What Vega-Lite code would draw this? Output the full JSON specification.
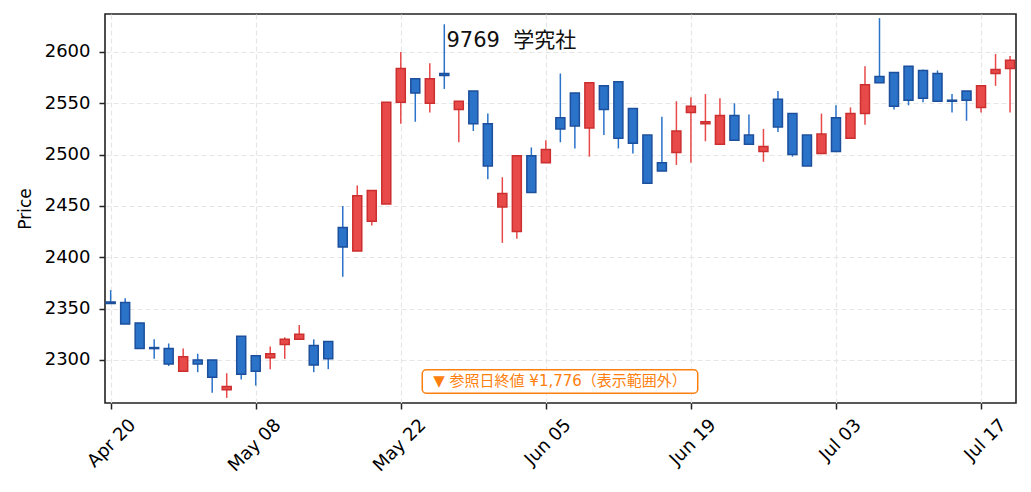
{
  "$schema": "https://vega.github.io/schema/vega-lite/v6.json",
  "width": 911,
  "height": 389,
  "autosize": {"type": "none"},
  "padding": {"left": 105, "top": 14, "right": 15, "bottom": 89},
  "background": "#ffffff",
  "view": {"stroke": "#222222", "strokeWidth": 1.6},
  "config": {
    "font": "DejaVu Sans",
    "axis": {
      "domain": false,
      "grid": true,
      "gridColor": "#e6e6e6",
      "gridDash": [5, 3],
      "gridWidth": 1.2,
      "tickColor": "#222222",
      "tickWidth": 1.5,
      "tickSize": 6,
      "labelColor": "#000000",
      "titleColor": "#000000",
      "titleFontWeight": "normal"
    }
  },
  "data": {
    "values": [
      {"date": "2026-04-20", "i": 0, "open": 2356.5, "high": 2368, "low": 2355, "close": 2355},
      {"date": "2026-04-21", "i": 1, "open": 2356, "high": 2360, "low": 2335, "close": 2335},
      {"date": "2026-04-22", "i": 2, "open": 2336, "high": 2336, "low": 2311, "close": 2311},
      {"date": "2026-04-23", "i": 3, "open": 2312, "high": 2320, "low": 2301, "close": 2311},
      {"date": "2026-04-24", "i": 4, "open": 2311, "high": 2316, "low": 2294, "close": 2296},
      {"date": "2026-04-27", "i": 5, "open": 2289, "high": 2311, "low": 2289, "close": 2303},
      {"date": "2026-04-28", "i": 6, "open": 2300, "high": 2306, "low": 2288, "close": 2296},
      {"date": "2026-04-30", "i": 7, "open": 2300, "high": 2300, "low": 2268, "close": 2283},
      {"date": "2026-05-01", "i": 8, "open": 2271, "high": 2287, "low": 2263, "close": 2274},
      {"date": "2026-05-07", "i": 9, "open": 2323, "high": 2323, "low": 2281, "close": 2286},
      {"date": "2026-05-08", "i": 10, "open": 2304, "high": 2304, "low": 2275, "close": 2289},
      {"date": "2026-05-11", "i": 11, "open": 2302, "high": 2313, "low": 2291, "close": 2306},
      {"date": "2026-05-12", "i": 12, "open": 2315, "high": 2322, "low": 2301, "close": 2320},
      {"date": "2026-05-13", "i": 13, "open": 2320, "high": 2334, "low": 2320, "close": 2325},
      {"date": "2026-05-14", "i": 14, "open": 2314, "high": 2320, "low": 2288, "close": 2295},
      {"date": "2026-05-15", "i": 15, "open": 2318, "high": 2318, "low": 2291, "close": 2301},
      {"date": "2026-05-18", "i": 16, "open": 2429, "high": 2450, "low": 2381, "close": 2410},
      {"date": "2026-05-19", "i": 17, "open": 2406, "high": 2470, "low": 2406, "close": 2460},
      {"date": "2026-05-20", "i": 18, "open": 2435, "high": 2465, "low": 2431, "close": 2465},
      {"date": "2026-05-21", "i": 19, "open": 2452, "high": 2551, "low": 2452, "close": 2551},
      {"date": "2026-05-22", "i": 20, "open": 2551, "high": 2600, "low": 2530, "close": 2584},
      {"date": "2026-05-25", "i": 21, "open": 2574, "high": 2574, "low": 2532, "close": 2560},
      {"date": "2026-05-26", "i": 22, "open": 2550, "high": 2589, "low": 2541, "close": 2574},
      {"date": "2026-05-27", "i": 23, "open": 2579, "high": 2627, "low": 2564, "close": 2577},
      {"date": "2026-05-28", "i": 24, "open": 2544, "high": 2552, "low": 2512, "close": 2552},
      {"date": "2026-05-29", "i": 25, "open": 2562, "high": 2562, "low": 2523, "close": 2530},
      {"date": "2026-06-01", "i": 26, "open": 2530, "high": 2540, "low": 2476, "close": 2489},
      {"date": "2026-06-02", "i": 27, "open": 2449, "high": 2478, "low": 2414, "close": 2462},
      {"date": "2026-06-03", "i": 28, "open": 2425, "high": 2499, "low": 2418, "close": 2499},
      {"date": "2026-06-04", "i": 29, "open": 2499, "high": 2507, "low": 2463, "close": 2463},
      {"date": "2026-06-05", "i": 30, "open": 2492, "high": 2514, "low": 2492, "close": 2505},
      {"date": "2026-06-08", "i": 31, "open": 2536, "high": 2579, "low": 2512, "close": 2525},
      {"date": "2026-06-09", "i": 32, "open": 2560, "high": 2560, "low": 2506, "close": 2528},
      {"date": "2026-06-10", "i": 33, "open": 2526, "high": 2570, "low": 2498, "close": 2570},
      {"date": "2026-06-11", "i": 34, "open": 2567, "high": 2567, "low": 2519, "close": 2544},
      {"date": "2026-06-12", "i": 35, "open": 2571, "high": 2571, "low": 2506, "close": 2516},
      {"date": "2026-06-15", "i": 36, "open": 2545, "high": 2545, "low": 2501, "close": 2511},
      {"date": "2026-06-16", "i": 37, "open": 2519, "high": 2519, "low": 2472, "close": 2472},
      {"date": "2026-06-17", "i": 38, "open": 2492, "high": 2537, "low": 2484, "close": 2484},
      {"date": "2026-06-18", "i": 39, "open": 2502, "high": 2552, "low": 2490, "close": 2523},
      {"date": "2026-06-19", "i": 40, "open": 2541, "high": 2556, "low": 2492, "close": 2547},
      {"date": "2026-06-22", "i": 41, "open": 2530, "high": 2559, "low": 2513, "close": 2532},
      {"date": "2026-06-23", "i": 42, "open": 2510, "high": 2555, "low": 2510, "close": 2538},
      {"date": "2026-06-24", "i": 43, "open": 2538, "high": 2550, "low": 2514, "close": 2514},
      {"date": "2026-06-25", "i": 44, "open": 2519, "high": 2539, "low": 2510, "close": 2510},
      {"date": "2026-06-26", "i": 45, "open": 2503, "high": 2525, "low": 2493, "close": 2508},
      {"date": "2026-06-29", "i": 46, "open": 2554, "high": 2562, "low": 2522, "close": 2527},
      {"date": "2026-06-30", "i": 47, "open": 2540, "high": 2540, "low": 2498, "close": 2500},
      {"date": "2026-07-01", "i": 48, "open": 2519, "high": 2519, "low": 2489, "close": 2489},
      {"date": "2026-07-02", "i": 49, "open": 2501, "high": 2540, "low": 2501, "close": 2520},
      {"date": "2026-07-03", "i": 50, "open": 2536, "high": 2548, "low": 2503, "close": 2503},
      {"date": "2026-07-06", "i": 51, "open": 2516, "high": 2546, "low": 2516, "close": 2540},
      {"date": "2026-07-07", "i": 52, "open": 2540, "high": 2586, "low": 2529, "close": 2568},
      {"date": "2026-07-08", "i": 53, "open": 2576, "high": 2633, "low": 2570, "close": 2570},
      {"date": "2026-07-09", "i": 54, "open": 2580, "high": 2580, "low": 2544, "close": 2547},
      {"date": "2026-07-10", "i": 55, "open": 2586, "high": 2586, "low": 2548, "close": 2553},
      {"date": "2026-07-13", "i": 56, "open": 2582, "high": 2583, "low": 2551, "close": 2555},
      {"date": "2026-07-14", "i": 57, "open": 2579, "high": 2582, "low": 2552, "close": 2552},
      {"date": "2026-07-15", "i": 58, "open": 2553, "high": 2559, "low": 2541, "close": 2552},
      {"date": "2026-07-16", "i": 59, "open": 2562, "high": 2562, "low": 2533, "close": 2553},
      {"date": "2026-07-17", "i": 60, "open": 2546, "high": 2567, "low": 2541, "close": 2567},
      {"date": "2026-07-21", "i": 61, "open": 2579, "high": 2598, "low": 2567, "close": 2583},
      {"date": "2026-07-22", "i": 62, "open": 2584, "high": 2596, "low": 2541, "close": 2592}
    ]
  },
  "encoding": {
    "x": {
      "field": "i",
      "type": "quantitative",
      "scale": {"domain": [-0.39, 62.41], "nice": false, "zero": false, "padding": 0},
      "axis": {
        "title": null,
        "values": [0, 10, 20, 30, 40, 50, 60],
        "labelExpr": "['Apr 20', 'May 08', 'May 22', 'Jun 05', 'Jun 19', 'Jul 03', 'Jul 17'][datum.value / 10]",
        "labelAngle": -45,
        "labelAlign": "right",
        "labelBaseline": "middle",
        "labelOffset": 22,
        "labelPadding": 13,
        "labelFontSize": 18
      }
    }
  },
  "layer": [
    {
      "mark": {"type": "rule", "strokeWidth": 1.5},
      "encoding": {
        "y": {
          "field": "low",
          "type": "quantitative",
          "scale": {"domain": [2258, 2637], "nice": false, "zero": false},
          "axis": {
            "title": "Price",
            "values": [2300, 2350, 2400, 2450, 2500, 2550, 2600],
            "format": "d",
            "labelFontSize": 18,
            "labelPadding": 9,
            "titleFontSize": 17,
            "titlePadding": 10
          }
        },
        "y2": {"field": "high"},
        "stroke": {
          "condition": {"test": "datum.close >= datum.open", "value": "#e84a4a"},
          "value": "#2b72c9"
        }
      }
    },
    {
      "mark": {"type": "bar", "width": 9, "strokeWidth": 1.5},
      "encoding": {
        "y": {
          "field": "open",
          "type": "quantitative",
          "axis": {"title": "Price", "format": "d"}
        },
        "y2": {"field": "close"},
        "fill": {
          "condition": {"test": "datum.close >= datum.open", "value": "#e84a4a"},
          "value": "#2b72c9"
        },
        "stroke": {
          "condition": {"test": "datum.close >= datum.open", "value": "#cc2f2f"},
          "value": "#1c4f9c"
        }
      }
    },
    {
      "transform": [{"filter": "datum.i == 0"}],
      "mark": {"type": "rect", "fill": "#ffffff", "stroke": "#ff7f0e", "strokeWidth": 1.5, "cornerRadius": 4},
      "encoding": {
        "x": {"datum": 21.48, "type": "quantitative"},
        "x2": {"datum": 40.47},
        "y": {"datum": 2290.3, "type": "quantitative", "axis": {"title": "Price", "format": "d"}},
        "y2": {"datum": 2267.6}
      }
    },
    {
      "transform": [{"filter": "datum.i == 0"}],
      "mark": {
        "type": "text",
        "text": "▼ 参照日終値 ¥1,776（表示範囲外）",
        "font": "DejaVu Sans, Noto Sans CJK JP",
        "fontSize": 15,
        "fontWeight": "normal",
        "fill": "#ff7f0e",
        "align": "center",
        "baseline": "middle"
      },
      "encoding": {
        "x": {"datum": 30.98, "type": "quantitative"},
        "y": {"datum": 2279, "type": "quantitative", "axis": {"title": "Price", "format": "d"}}
      }
    },
    {
      "transform": [{"filter": "datum.i == 0"}],
      "mark": {
        "type": "text",
        "text": "9769\u00a0\u00a0学究社",
        "font": "DejaVu Sans, Noto Sans CJK JP",
        "fontSize": 21,
        "fontWeight": "normal",
        "fill": "#111111",
        "align": "left",
        "baseline": "alphabetic"
      },
      "encoding": {
        "x": {"datum": 23.15, "type": "quantitative"},
        "y": {"datum": 2605, "type": "quantitative", "axis": {"title": "Price", "format": "d"}}
      }
    }
  ]
}
